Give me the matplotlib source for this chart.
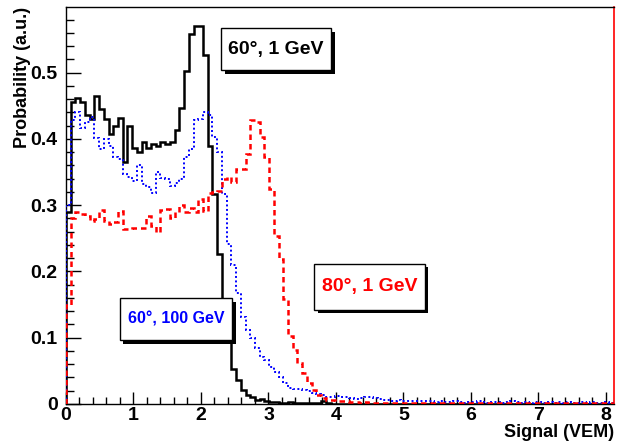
import numpy as np
import matplotlib
matplotlib.use("Agg")
import matplotlib.pyplot as plt
from matplotlib.patches import Rectangle
from matplotlib.ticker import MultipleLocator, FuncFormatter

plt.rcParams["font.family"] = ["Liberation Sans", "DejaVu Sans"]
plt.rcParams["font.weight"] = "bold"

# -----------------------------
# histogram data (bin width 0.07 VEM, 116 bins -> 0 .. 8.12)
# -----------------------------
bin_width = 0.07
n_bins = 116

black_60_1gev = [
    0.290, 0.456, 0.462, 0.456, 0.436, 0.430, 0.464, 0.445, 0.430, 0.408,
    0.420, 0.431, 0.365, 0.419, 0.387, 0.380, 0.396, 0.387, 0.393, 0.390,
    0.395, 0.393, 0.395, 0.414, 0.446, 0.503, 0.559, 0.571, 0.571, 0.527,
    0.390, 0.317, 0.227, 0.140, 0.100, 0.053, 0.036, 0.021, 0.014, 0.010,
    0.006, 0.008, 0.005, 0.003, 0.003, 0.002, 0.002, 0.003, 0.002, 0.001,
    0.002, 0.001, 0.001, 0.002, 0.004, 0.001, 0.0, 0.0, 0.0, 0.0,
] + [0.0] * 56

blue_60_100gev = [
    0.300, 0.428, 0.440, 0.416, 0.425, 0.433, 0.402, 0.385, 0.400, 0.390,
    0.372, 0.369, 0.347, 0.342, 0.337, 0.360, 0.332, 0.327, 0.319, 0.350,
    0.341, 0.339, 0.329, 0.334, 0.340, 0.372, 0.385, 0.428, 0.430, 0.440,
    0.436, 0.403, 0.380, 0.317, 0.241, 0.210, 0.168, 0.132, 0.112, 0.100,
    0.085, 0.071, 0.067, 0.056, 0.049, 0.041, 0.032, 0.024, 0.023, 0.022,
    0.021, 0.019, 0.017, 0.015, 0.013, 0.011, 0.011, 0.012, 0.010, 0.011,
    0.009, 0.008, 0.009, 0.010, 0.011, 0.009, 0.007, 0.006, 0.006, 0.005,
    0.006, 0.005, 0.004, 0.005, 0.004, 0.004, 0.005, 0.004, 0.003, 0.004,
    0.003, 0.003, 0.004, 0.003, 0.002, 0.003, 0.003, 0.004, 0.003, 0.002,
    0.003, 0.003, 0.002, 0.003, 0.004, 0.003, 0.002, 0.003, 0.002, 0.003,
    0.003, 0.002, 0.003, 0.002, 0.003, 0.002, 0.003, 0.002, 0.002, 0.003,
    0.002, 0.003, 0.002, 0.002, 0.003, 0.002,
]

red_80_1gev = [
    0.150, 0.281, 0.289, 0.286, 0.284, 0.276, 0.279, 0.293, 0.276, 0.271,
    0.274, 0.291, 0.264, 0.264, 0.265, 0.265, 0.265, 0.284, 0.269, 0.259,
    0.293, 0.294, 0.281, 0.289, 0.300, 0.289, 0.295, 0.289, 0.309, 0.291,
    0.319, 0.320, 0.322, 0.339, 0.342, 0.335, 0.355, 0.355, 0.377, 0.428,
    0.426, 0.403, 0.372, 0.324, 0.254, 0.219, 0.158, 0.102, 0.082, 0.062,
    0.047, 0.032, 0.021, 0.014, 0.009, 0.006, 0.006, 0.005, 0.004, 0.004,
    0.003, 0.003, 0.002, 0.003, 0.002, 0.002, 0.002, 0.001, 0.002, 0.001,
    0.002, 0.001, 0.001, 0.002, 0.001, 0.001, 0.001, 0.002, 0.001, 0.001,
] + [0.001] * 36

labels_text = ["60\u00b0, 1 GeV", "60\u00b0, 100 GeV", "80\u00b0, 1 GeV"]

edges = np.arange(n_bins + 1) * bin_width

# -----------------------------
# figure
# -----------------------------
fig = plt.figure(figsize=(6.21, 4.43), dpi=100)
ax = fig.add_axes([66 / 621, 1 - 404 / 443, 548 / 621, 397 / 443])

ax.stairs(black_60_1gev, edges, baseline=0, color="black", lw=1.8, zorder=3)
ax.stairs(blue_60_100gev, edges, baseline=0, color="#0000ff", lw=1.4,
          linestyle=(0, (1, 1.3)), zorder=4)
ax.stairs(red_80_1gev, edges, baseline=0, color="#ff0000", lw=1.8,
          linestyle=(0, (2.2, 1.6)), zorder=5)

ax.set_xlim(0, edges[-1])
ax.set_ylim(0, 0.599)

ax.xaxis.set_major_locator(MultipleLocator(1))
ax.xaxis.set_minor_locator(MultipleLocator(0.2))
ax.yaxis.set_major_locator(MultipleLocator(0.1))
ax.yaxis.set_minor_locator(MultipleLocator(0.02))
ax.yaxis.set_major_formatter(FuncFormatter(lambda v, p: "0" if abs(v) < 1e-9 else f"{v:.1f}"))
ax.xaxis.set_major_formatter(FuncFormatter(lambda v, p: f"{v:.0f}"))

ax.tick_params(axis="both", which="both", direction="in", top=False, right=False,
               labelsize=14, width=1.0)
ax.tick_params(axis="y", which="major", length=11, pad=6)
ax.tick_params(axis="y", which="minor", length=6)
ax.tick_params(axis="x", which="major", length=9, pad=2)
ax.tick_params(axis="x", which="minor", length=5)
for lab in ax.get_xticklabels() + ax.get_yticklabels():
    lab.set_fontweight("bold")

for s in ["left", "top", "bottom"]:
    ax.spines[s].set_linewidth(1.0)
    ax.spines[s].set_color("black")
ax.spines["right"].set_color("#ff0000")
ax.spines["right"].set_linewidth(1.2)

ax.set_xlabel("Signal (VEM)", loc="right", fontsize=13, fontweight="bold", labelpad=0)
ax.set_ylabel("Probability (a.u.)", loc="top", fontsize=13, fontweight="bold", labelpad=0)


# -----------------------------
# ROOT-style text boxes with shadow
# -----------------------------
def shadow_box(x0, y0, x1, y1, text, color, size):
    # coordinates in axes fraction
    sx = 3.5 / 548
    sy = 3.5 / 397
    ax.add_patch(Rectangle((x0 + sx, y0 - sy), x1 - x0, y1 - y0, transform=ax.transAxes,
                           facecolor="black", edgecolor="black", lw=0, zorder=8))
    ax.add_patch(Rectangle((x0, y0), x1 - x0, y1 - y0, transform=ax.transAxes,
                           facecolor="white", edgecolor="black", lw=1.0, zorder=9))
    ax.text((x0 + x1) / 2, (y0 + y1) / 2, text, transform=ax.transAxes, color=color,
            fontsize=size, fontweight="bold", ha="center", va="center", zorder=10)


shadow_box(0.283, 0.841, 0.484, 0.947, labels_text[0], "black", 14)
shadow_box(0.0985, 0.161, 0.303, 0.267, labels_text[1], "#0000ff", 11.5)
shadow_box(0.4526, 0.237, 0.655, 0.353, labels_text[2], "#ff0000", 14)

fig.savefig("out.png", dpi=100)
